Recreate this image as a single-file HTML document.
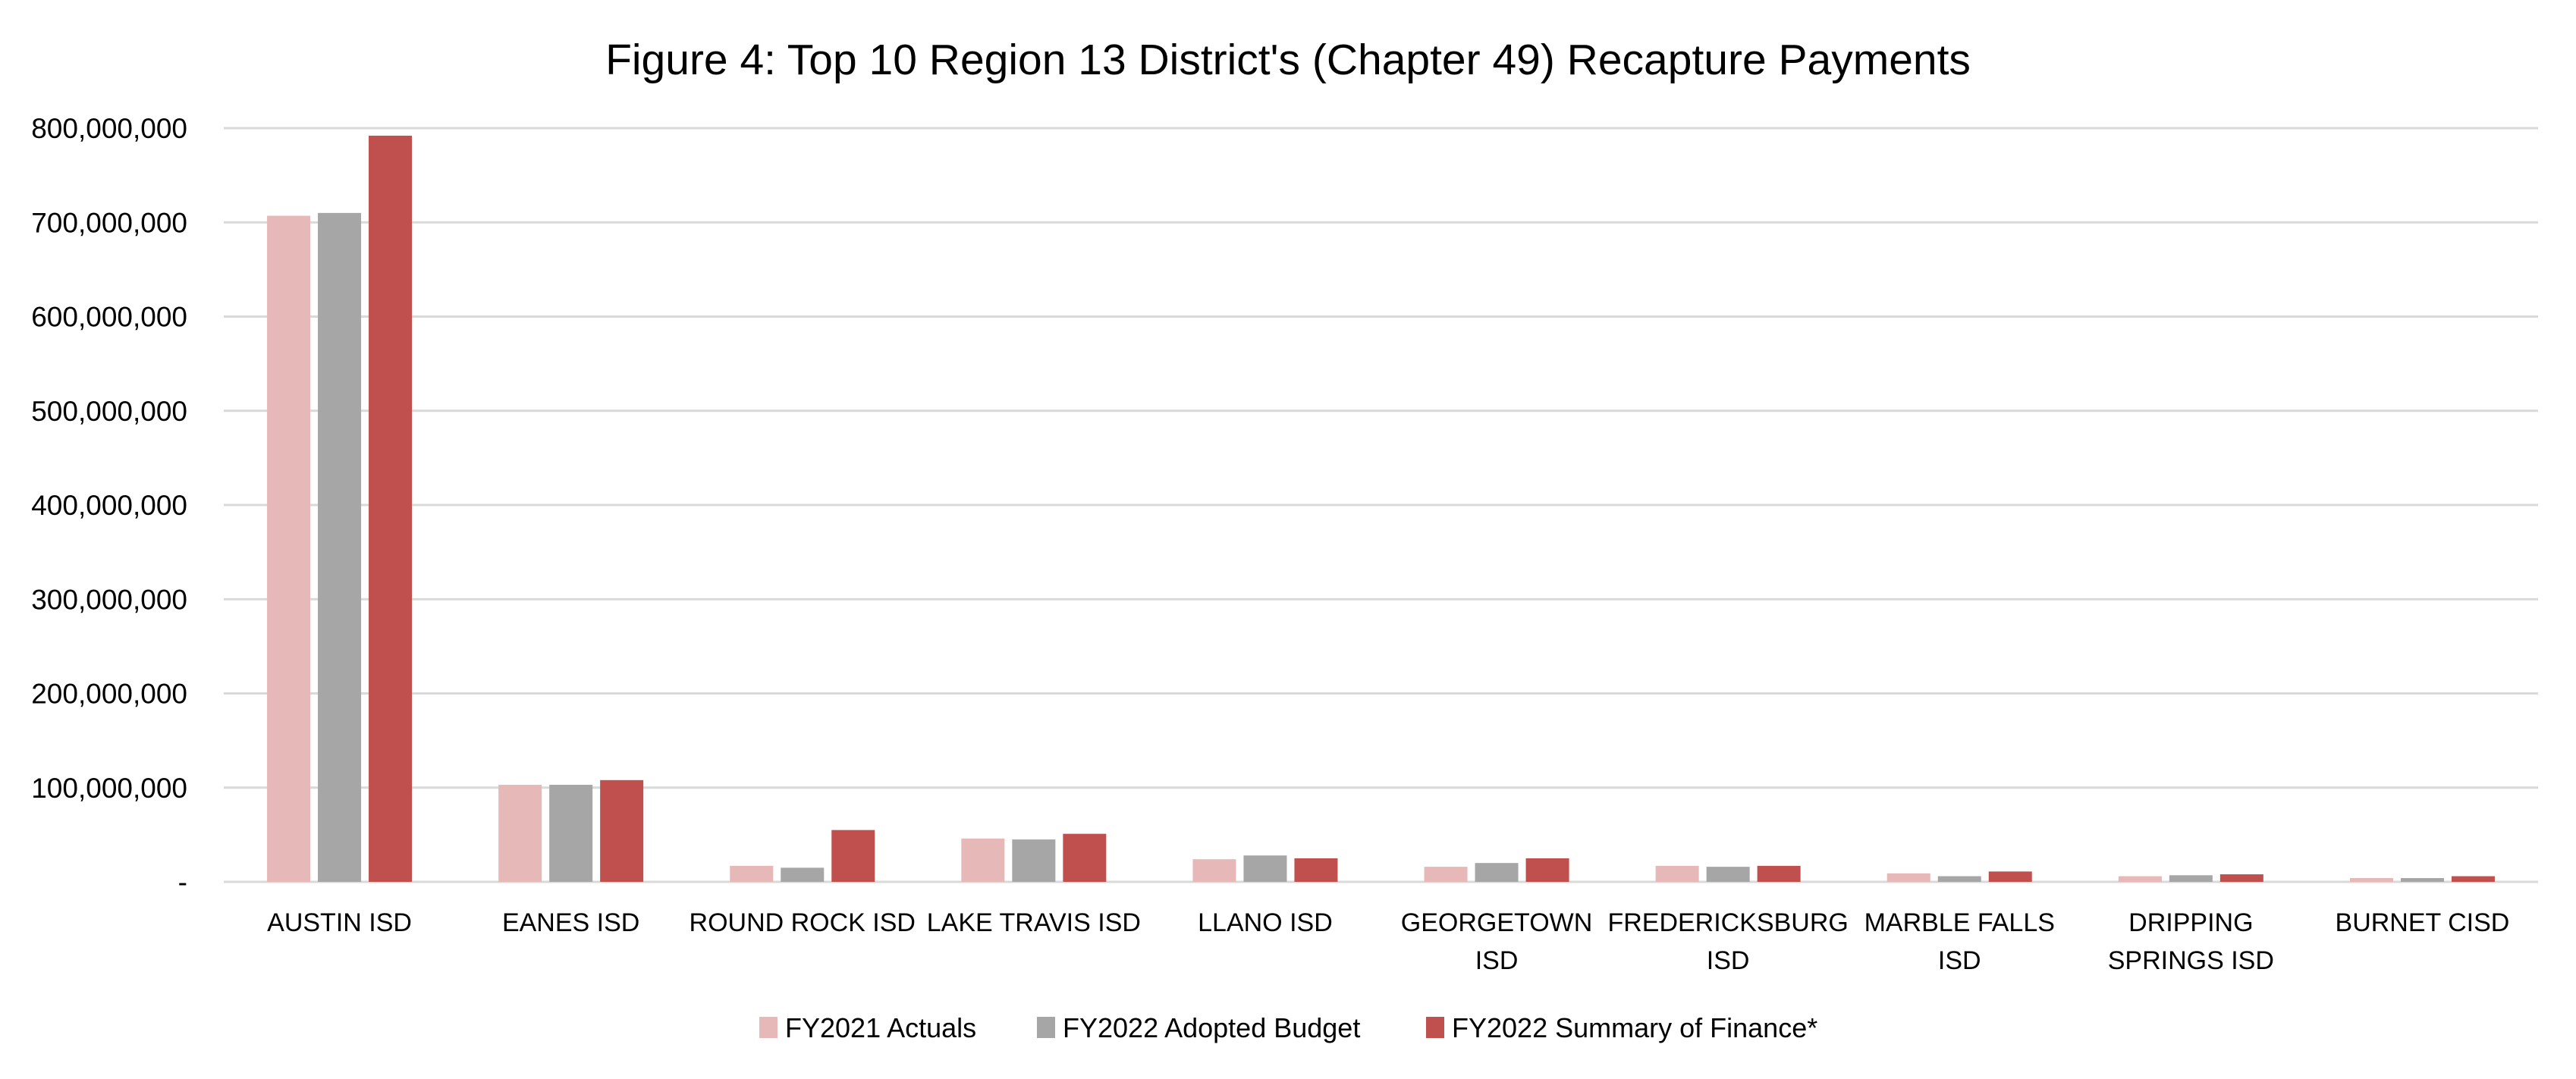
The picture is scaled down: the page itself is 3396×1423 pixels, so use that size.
<!DOCTYPE html>
<html><head><meta charset="utf-8">
<style>
html,body{margin:0;padding:0;background:#fff;}
svg{display:block;font-family:"Liberation Sans",sans-serif;}
</style></head>
<body>
<svg id="chart" width="3396" height="1423" viewBox="0 0 3396 1423" xmlns="http://www.w3.org/2000/svg">
<rect width="3396" height="1423" fill="#fff"/>
<text x="1698" y="98" text-anchor="middle" font-size="57" fill="#000">Figure 4: Top 10 Region 13 District's (Chapter 49) Recapture Payments</text>
<g id="grid"></g><g id="bars"></g><g id="xlabels"></g><g id="legend"></g>
</svg>
<script>
const categories = [["AUSTIN ISD"],["EANES ISD"],["ROUND ROCK ISD"],["LAKE TRAVIS ISD"],["LLANO ISD"],["GEORGETOWN","ISD"],["FREDERICKSBURG","ISD"],["MARBLE FALLS","ISD"],["DRIPPING","SPRINGS ISD"],["BURNET CISD"]];
const fy2021Actuals = [707e6,103e6,17e6,46e6,24e6,16e6,17e6,9e6,6e6,4e6];
const fy2022Adopted = [710e6,103e6,15e6,45e6,28e6,20e6,16e6,6e6,7e6,4e6];
const fy2022Summary = [792e6,108e6,55e6,51e6,25e6,25e6,17e6,11e6,8e6,6e6];
const yTicks = [0,100e6,200e6,300e6,400e6,500e6,600e6,700e6,800e6];
const yTickLabels = ["-","100,000,000","200,000,000","300,000,000","400,000,000","500,000,000","600,000,000","700,000,000","800,000,000"];
const seriesNames = ["FY2021 Actuals","FY2022 Adopted Budget","FY2022 Summary of Finance*"];

const NS="http://www.w3.org/2000/svg";
const L=295,R=3346,T=169,B=1163,yMax=800e6;
const y=v=>B-(v/yMax)*(B-T);
const catW=(R-L)/categories.length;
const x=i=>L+catW*i+catW/2;
const colors=["#e6b8b7","#a6a6a6","#c0504d"];
const series=[fy2021Actuals,fy2022Adopted,fy2022Summary];
function mk(tag,attrs,parent){const e=document.createElementNS(NS,tag);for(const k in attrs)e.setAttribute(k,attrs[k]);parent.appendChild(e);return e;}
const grid=document.getElementById('grid');
yTicks.forEach((t,i)=>{
  const ln=mk('line',{x1:L,x2:R,y1:y(t),y2:y(t),stroke:'#d9d9d9','stroke-width':3},grid);
  
  
  const tx=mk('text',{x:247,y:y(t)+13,'text-anchor':'end','font-size':37,fill:'#000'},grid);
  tx.textContent=yTickLabels[i];
  
  
});
const bars=document.getElementById('bars');
const bw=57,gap=10;
series.forEach((s,si)=>{
  s.forEach((v,i)=>{
    const cx=x(i)+(si-1)*(bw+gap);
    const r=mk('rect',{x:cx-bw/2,y:y(v),width:bw,height:B-y(v),fill:colors[si]},bars);
    
    
  });
});
const xl=document.getElementById('xlabels');
categories.forEach((c,i)=>{
  c.forEach((line,li)=>{
    const t=mk('text',{x:x(i),y:1228+li*50,'text-anchor':'middle','font-size':34,fill:'#000'},xl);
    t.textContent=line;
    
    
  });
});
const lg=document.getElementById('legend');
const lx=[1001,1367,1880];
seriesNames.forEach((n,i)=>{
  const r=mk('rect',{x:lx[i],y:1341,width:24,height:28,fill:colors[i]},lg);
  
  
  const t=mk('text',{x:lx[i]+34,y:1368,'font-size':36,fill:'#000'},lg);
  t.textContent=n;
  
  
});
</script>
</body></html>
